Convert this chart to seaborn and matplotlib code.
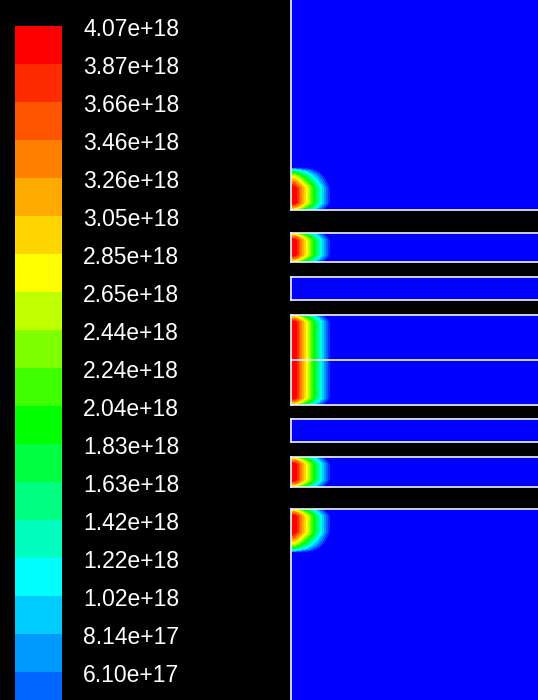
import numpy as np
import matplotlib
matplotlib.use("Agg")
import matplotlib.pyplot as plt
from matplotlib.colors import ListedColormap
import seaborn as sns

# colour bands, top (max) to bottom (min)
band_colors = ['#ff0000', '#ff2b00', '#ff5500', '#ff8000', '#ffaa00', '#ffd500', '#ffff00',
               '#bfff00', '#80ff00', '#40ff00', '#00ff00', '#00ff40', '#00ff80', '#00ffbf',
               '#00ffff', '#00ccff', '#0099ff', '#0066ff', '#0033ff', '#0000ff']
level_labels = ['4.07e+18', '3.87e+18', '3.66e+18', '3.46e+18', '3.26e+18', '3.05e+18',
                '2.85e+18', '2.65e+18', '2.44e+18', '2.24e+18', '2.04e+18', '1.83e+18',
                '1.63e+18', '1.42e+18', '1.22e+18', '1.02e+18', '8.14e+17', '6.10e+17']
vmax = 4.07e18
vmin = 0.0

# fluid zones (pixel rows of the domain), interior boundary row
zone_top = [0, 233, 277, 315, 419, 457, 509]
zone_bottom = [210, 262, 300, 405, 442, 487, 700]
interior_rows = [360]

# inlet plumes at the left wall: row span, edge type (wall / free)
plume_top = [168, 233, 315, 457, 509]
plume_bottom = [210, 262, 405, 487, 552]
plume_top_edge = ['free', 'wall', 'wall', 'wall', 'wall']
plume_bottom_edge = ['wall', 'wall', 'wall', 'wall', 'free']
plume_peak = [4.07e18, 4.07e18, 4.07e18, 4.07e18, 4.07e18]
plume_core = 4.0     # px of flat core near the wall
plume_length = 36.5  # px decay length

W, H = 538, 700
x_wall = 291
nx, ny = W - x_wall, H

xs = np.arange(nx) + 0.5
ys = np.arange(ny) + 0.5


def edge_factor(d, kind):
    width, floor = (7.0, 0.45) if kind == 'wall' else (20.0, 0.0)
    s = np.clip(d / width, 0, 1)
    f = floor + (1 - floor) * np.sqrt(s)
    return np.where(d >= 0, f, 0.0)


field = np.zeros((ny, nx))
for a, b, te, be, pk in zip(plume_top, plume_bottom, plume_top_edge, plume_bottom_edge, plume_peak):
    amp = np.minimum(edge_factor(ys - a, te), edge_factor(b - ys, be))
    reach = np.maximum(amp, 1e-6) ** 0.35
    prof = np.clip(1 - (xs[None, :] - plume_core) / (plume_length * reach[:, None]), 0, 1)
    field = np.maximum(field, pk * amp[:, None] * prof)

mask = np.ones((ny, nx), dtype=bool)
for t, b in zip(zone_top, zone_bottom):
    mask[t:b, :] = False

cmap = ListedColormap(band_colors[::-1])

fig = plt.figure(figsize=(W / 100, H / 100), dpi=100, facecolor='black')

# contour field
ax = fig.add_axes([x_wall / W, 0, nx / W, 1])
ax.set_facecolor('black')
sns.heatmap(field, mask=mask, cmap=cmap, vmin=vmin, vmax=vmax, cbar=False,
            xticklabels=False, yticklabels=False, ax=ax)
line_kw = dict(color='#f4f4ff', lw=1.2, clip_on=False)
for t, b in zip(zone_top, zone_bottom):
    if t > 0:
        ax.plot([0, nx], [t, t], **line_kw)
    if b < H:
        ax.plot([0, nx], [b, b], **line_kw)
    ax.plot([0.3, 0.3], [t, b], **line_kw)
for r in interior_rows:
    ax.plot([0, nx], [r, r], **line_kw)
ax.set_xlim(0, nx)
ax.set_ylim(ny, 0)
for s in ax.spines.values():
    s.set_visible(False)

# colour bar
n_bands = len(band_colors)
band_h = 38
cb_top, cb_left, cb_w = 26, 15, 47
cb_h = n_bands * band_h
cax = fig.add_axes([cb_left / W, (H - cb_top - cb_h) / H, cb_w / W, cb_h / H])
band_vals = vmax - (np.arange(n_bands) + 0.5) * (vmax - vmin) / n_bands
sns.heatmap(band_vals[:, None], cmap=cmap, vmin=vmin, vmax=vmax, cbar=False,
            xticklabels=False, ax=cax)
cax.yaxis.tick_right()
cax.set_yticks(np.arange(len(level_labels)) + 0.02)
cax.set_yticklabels(level_labels, rotation=0, color='white', fontsize=16.5,
                    family='Liberation Sans', va='center_baseline')
cax.tick_params(axis='y', length=0, pad=15.3)
cax.tick_params(axis='x', length=0)

fig.savefig('out.png', dpi=100, facecolor='black')
